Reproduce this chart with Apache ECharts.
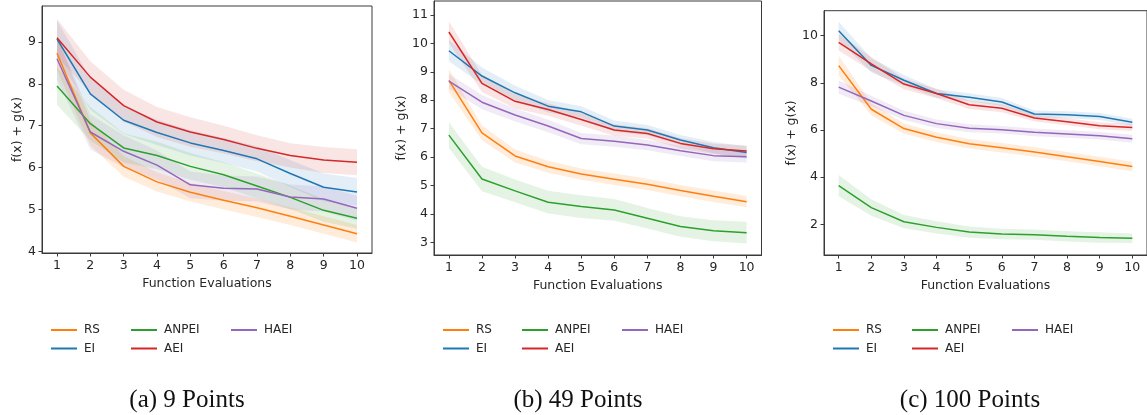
<!DOCTYPE html>
<html>
<head>
<meta charset="utf-8">
<script src="https://cdn.jsdelivr.net/npm/echarts@6/dist/echarts.min.js"></script>
<style>
  html, body { margin: 0; padding: 0; background: #fff; }
  #chart { width: 1147px; height: 415px; }
</style>
</head>
<body>
<div id="chart"></div>
<script>
// x values (function evaluations)
const evals = [1, 2, 3, 4, 5, 6, 7, 8, 9, 10]
const methods = ['RS', 'EI', 'ANPEI', 'AEI', 'HAEI']
const captions = ['(a) 9 Points', '(b) 49 Points', '(c) 100 Points']

// (a) 9 points - means
const rs9 = [8.73, 6.83, 6.03, 5.66, 5.41, 5.22, 5.04, 4.84, 4.63, 4.42]
const ei9 = [9.07, 7.76, 7.13, 6.84, 6.59, 6.41, 6.21, 5.86, 5.53, 5.42]
const anpei9 = [7.95, 7.05, 6.47, 6.29, 6.03, 5.83, 5.56, 5.29, 4.98, 4.79]
const aei9 = [9.10, 8.16, 7.48, 7.09, 6.85, 6.67, 6.46, 6.29, 6.18, 6.13]
const haei9 = [8.60, 6.85, 6.39, 6.06, 5.59, 5.51, 5.49, 5.30, 5.25, 5.03]
// (a) half width of the shaded band
const rs9Err = [0.40, 0.30, 0.25, 0.23, 0.22, 0.22, 0.22, 0.21, 0.21, 0.21]
const ei9Err = [0.45, 0.38, 0.33, 0.30, 0.30, 0.30, 0.30, 0.32, 0.33, 0.33]
const anpei9Err = [0.45, 0.40, 0.35, 0.33, 0.32, 0.30, 0.30, 0.28, 0.27, 0.25]
const aei9Err = [0.45, 0.38, 0.38, 0.36, 0.35, 0.33, 0.31, 0.29, 0.31, 0.31]
const haei9Err = [0.50, 0.42, 0.38, 0.35, 0.32, 0.30, 0.30, 0.30, 0.30, 0.30]

// (b) 49 points
const rs49 = [8.70, 6.85, 6.04, 5.66, 5.40, 5.22, 5.04, 4.82, 4.62, 4.43]
const ei49 = [9.74, 8.85, 8.26, 7.79, 7.59, 7.09, 6.95, 6.60, 6.33, 6.16]
const anpei49 = [6.77, 5.23, 4.81, 4.41, 4.26, 4.14, 3.85, 3.56, 3.41, 3.34]
const aei49 = [10.40, 8.59, 7.96, 7.67, 7.32, 6.95, 6.83, 6.48, 6.29, 6.21]
const haei49 = [8.67, 7.93, 7.48, 7.09, 6.65, 6.56, 6.42, 6.22, 6.05, 6.01]
const rs49Err = [0.40, 0.26, 0.23, 0.21, 0.20, 0.20, 0.20, 0.20, 0.20, 0.20]
const ei49Err = [0.37, 0.30, 0.25, 0.22, 0.20, 0.20, 0.18, 0.18, 0.20, 0.22]
const anpei49Err = [0.45, 0.43, 0.40, 0.40, 0.40, 0.38, 0.36, 0.36, 0.37, 0.38]
const aei49Err = [0.38, 0.30, 0.25, 0.22, 0.22, 0.20, 0.18, 0.18, 0.18, 0.20]
const haei49Err = [0.25, 0.25, 0.23, 0.22, 0.20, 0.20, 0.18, 0.18, 0.20, 0.20]

// (c) 100 points
const rs100 = [8.73, 6.88, 6.06, 5.69, 5.42, 5.25, 5.07, 4.87, 4.66, 4.45]
const ei100 = [10.21, 8.74, 8.11, 7.55, 7.39, 7.19, 6.68, 6.65, 6.57, 6.33]
const anpei100 = [3.64, 2.71, 2.11, 1.87, 1.67, 1.59, 1.56, 1.49, 1.44, 1.41]
const aei100 = [9.72, 8.80, 7.95, 7.55, 7.07, 6.92, 6.51, 6.35, 6.18, 6.11]
const haei100 = [7.82, 7.23, 6.62, 6.27, 6.07, 6.01, 5.90, 5.83, 5.76, 5.63]
const rs100Err = [0.42, 0.25, 0.22, 0.20, 0.20, 0.20, 0.20, 0.20, 0.20, 0.20]
const ei100Err = [0.38, 0.30, 0.22, 0.18, 0.17, 0.17, 0.15, 0.15, 0.15, 0.15]
const anpei100Err = [0.45, 0.35, 0.28, 0.26, 0.24, 0.22, 0.22, 0.22, 0.22, 0.20]
const aei100Err = [0.35, 0.30, 0.22, 0.20, 0.18, 0.17, 0.15, 0.15, 0.15, 0.15]
const haei100Err = [0.28, 0.22, 0.20, 0.18, 0.17, 0.16, 0.16, 0.16, 0.16, 0.17]

// y tick labels per panel
const yTicks9 = [4, 5, 6, 7, 8, 9]
const yTicks49 = [3, 4, 5, 6, 7, 8, 9, 10, 11]
const yTicks100 = [2, 4, 6, 8, 10]

const panelMeans = [
  [rs9, ei9, anpei9, aei9, haei9],
  [rs49, ei49, anpei49, aei49, haei49],
  [rs100, ei100, anpei100, aei100, haei100]
]
const panelErrs = [
  [rs9Err, ei9Err, anpei9Err, aei9Err, haei9Err],
  [rs49Err, ei49Err, anpei49Err, aei49Err, haei49Err],
  [rs100Err, ei100Err, anpei100Err, aei100Err, haei100Err]
]
const panelTicks = [yTicks9, yTicks49, yTicks100]

// layout (pixels) and axis ranges
const layout = [
  {left: 42, top: 6, width: 330, height: 247, yMin: 3.962, yMax: 9.858, legendX: [46, 126, 226], capX: 187},
  {left: 434, top: 1, width: 327.5, height: 254, yMin: 2.554, yMax: 11.49, legendX: [438, 517, 617], capX: 578},
  {left: 824, top: 10.7, width: 327.5, height: 244.3, yMin: 0.698, yMax: 11.06, legendX: [828, 907, 1007], capX: 970}
]

const colors = ['#ff7f0e', '#1f77b4', '#2ca02c', '#d62728', '#9467bd']
const bandColors = ['rgba(255,127,14,0.15)', 'rgba(31,119,180,0.12)', 'rgba(44,160,44,0.12)', 'rgba(214,39,40,0.12)', 'rgba(148,103,189,0.13)']
const font = 'DejaVu Sans'
const txt = '#262626'
const axisColor = '#3a3a3a'

const grid = []
const xAxis = []
const yAxis = []
const series = []
const legend = []

// shaded band as one polygon: rows are [x, low, high]
function bandSeries (k, i, rows) {
  return {
    type: 'custom', name: 'band', xAxisIndex: k, yAxisIndex: k, silent: true, z: 1,
    data: rows,
    encode: {x: 0, y: [1, 2]},
    renderItem: function (params, api) {
      if (params.dataIndex !== 0) return null
      const top = rows.map(r => api.coord([r[0], r[2]]))
      const bottom = rows.map(r => api.coord([r[0], r[1]])).reverse()
      return {
        type: 'polygon',
        shape: {points: top.concat(bottom)},
        style: {fill: bandColors[i], stroke: null}
      }
    }
  }
}

layout.forEach((p, k) => {
  grid.push({left: p.left, top: p.top, width: p.width, height: p.height, show: true, borderColor: axisColor, borderWidth: 1, backgroundColor: 'transparent'})
  xAxis.push({
    type: 'value', gridIndex: k, min: 0.55, max: 10.45,
    name: 'Function Evaluations', nameLocation: 'middle', nameGap: 22,
    nameTextStyle: {fontFamily: font, fontSize: 12.5, color: txt},
    axisLine: {lineStyle: {color: axisColor, width: 1}},
    axisTick: {show: true, length: 3.5, lineStyle: {color: axisColor}, customValues: evals},
    axisLabel: {fontFamily: font, fontSize: 12.5, color: txt, margin: 6, customValues: evals},
    splitLine: {show: false}
  })
  yAxis.push({
    type: 'value', gridIndex: k, min: p.yMin, max: p.yMax,
    name: 'f(x) + g(x)', nameLocation: 'middle', nameRotate: 90, nameGap: 18,
    nameTextStyle: {fontFamily: font, fontSize: 12.5, color: txt},
    axisLine: {show: true, lineStyle: {color: axisColor, width: 1}},
    axisTick: {show: true, length: 3.5, lineStyle: {color: axisColor}, customValues: panelTicks[k]},
    axisLabel: {fontFamily: font, fontSize: 12.5, color: txt, margin: 6, customValues: panelTicks[k]},
    splitLine: {show: false}
  })

  methods.forEach((m, i) => {
    const mean = panelMeans[k][i]
    const err = panelErrs[k][i]
    series.push(bandSeries(k, i, evals.map((x, j) => [x, mean[j] - err[j], mean[j] + err[j]])))
  })
  methods.forEach((m, i) => {
    series.push({
      type: 'line', name: m, xAxisIndex: k, yAxisIndex: k,
      data: evals.map((x, j) => [x, panelMeans[k][i][j]]),
      symbol: 'none', itemStyle: {color: colors[i]}, lineStyle: {color: colors[i], width: 1.5}, z: 3
    })
  })

  // legend: three columns filled column by column
  const cols = [['RS', 'EI'], ['ANPEI', 'AEI'], ['HAEI']]
  cols.forEach((names, c) => {
    legend.push({
      orient: 'vertical', left: p.legendX[c], top: 319, data: names,
      icon: 'rect', itemWidth: 26, itemHeight: 2, itemGap: 6.5,
      textStyle: {fontFamily: font, fontSize: 12, color: txt, padding: [0, 0, 0, 2]},
      selectedMode: false
    })
  })
})

const chart = echarts.init(document.getElementById('chart'))
chart.setOption({
  animation: false,
  backgroundColor: '#fff',
  grid, xAxis, yAxis, series, legend,
  graphic: layout.map((p, k) => ({
    type: 'text', x: p.capX, y: 400,
    style: {text: captions[k], font: '25px "Liberation Serif"', fill: '#111', align: 'center', verticalAlign: 'middle'}
  }))
})
</script>
</body>
</html>
